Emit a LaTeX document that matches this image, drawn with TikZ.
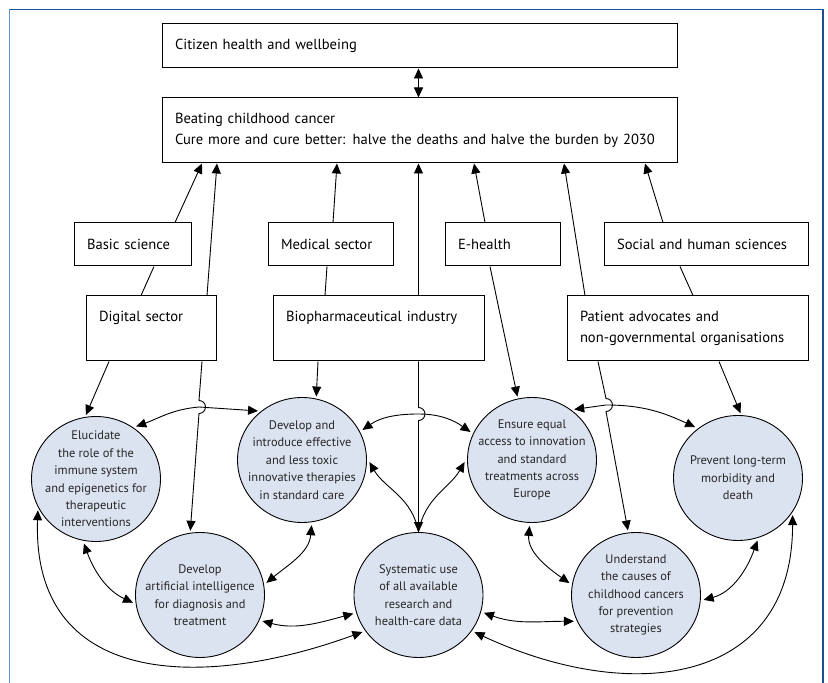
\documentclass[tikz,border=0pt]{standalone}
\usepackage{fontspec}
\setmainfont{PT Sans}
\usetikzlibrary{arrows.meta,shapes.geometric}
\definecolor{framedark}{RGB}{25,80,150}
\definecolor{framelight}{RGB}{95,150,205}
\definecolor{goalfill}{RGB}{220,227,240}
\tikzset{
  sector/.style={draw, line width=1pt, inner xsep=13pt, inner ysep=0pt, align=left,
    font=\fontsize{14.6}{21.5}\selectfont},
  topline/.style={text depth=24.5pt},
  goal/.style={ellipse, draw, line width=0.9pt, fill=goalfill,
    minimum width=129pt, minimum height=125pt, inner sep=0pt},
  goaltext/.style={align=center, text=black!85, inner sep=0pt,
    font=\fontsize{12.4}{17.4}\selectfont},
  link/.style={line width=0.9pt},
  tip/.tip={Triangle[length=10pt,width=9pt]},
  arr/.style={link, -tip, shorten >=2pt},
  dbl/.style={link, tip-tip, shorten >=3pt, shorten <=3pt},
}
\begin{document}
\begin{tikzpicture}[x=1pt,y=1pt]
\useasboundingbox (0,0) rectangle (828,683);
% frame
\draw[framelight, line width=1.5pt] (9.5,0) -- (9.5,673.5);
\draw[framedark, line width=1.5pt] (9.5,673.5) -- (823,673.5) -- (823,0);

% top boxes
\node[sector, text width=489pt, minimum height=44pt] (citizen) at (419.5,637) {Citizen health and wellbeing};
\node[sector, text width=489pt, minimum height=65pt] (beating) at (419.5,552.5)
  {Beating childhood cancer\\Cure more and cure better: halve the deaths and halve the burden by 2030};
\draw[dbl, shorten >=0pt, shorten <=0pt] ([xshift=-1pt]citizen.south) -- ([xshift=-1pt]beating.north);

% sectors
\node[sector, text width=91pt, minimum height=43pt] (basic) at (132.5,438.5) {Basic science};
\node[sector, text width=99pt, minimum height=43pt] (medical) at (330.5,438.5) {Medical sector};
\node[sector, text width=89pt, minimum height=43pt] (ehealth) at (502.5,438.5) {E-health};
\node[sector, text width=178pt, minimum height=43pt] (social) at (706,438.5) {Social and human sciences};
\node[sector, topline, text width=104pt, minimum height=65pt] (digital) at (151,354.5) {Digital sector};
\node[sector, topline, text width=185pt, minimum height=65pt] (biopharma) at (378.5,354.5) {Biopharmaceutical industry};
\node[sector, text width=215pt, minimum height=65pt] (patient) at (687.5,354.5)
  {Patient advocates and\\non-governmental organisations};

% goals
\node[goal, label={[goaltext]center:{Elucidate\\the role of the\\immune system\\and epigenetics for\\therapeutic\\interventions}}] (eluc) at (96,204) {};
\node[goal, label={[goaltext]center:{Develop and\\introduce effective\\and less toxic\\innovative therapies\\in standard care}}] (devint) at (302,223) {};
\node[goal, label={[goaltext]center:{Develop\\artificial intelligence\\for diagnosis and\\treatment}}] (ai) at (200,88) {};
\node[goal, label={[goaltext]center:{Systematic use\\of all available\\research and\\health-care data}}] (sysuse) at (418.5,88) {};
\node[goal, label={[goaltext]center:{Ensure equal\\access to innovation\\and standard\\treatments across\\Europe}}] (ensure) at (532,223) {};
\node[goal, label={[goaltext]center:{Prevent long-term\\morbidity and\\death}}] (prevent) at (738,205) {};
\node[goal, label={[goaltext]center:{Understand\\the causes of\\childhood cancers\\for prevention\\strategies}}] (underst) at (636,88) {};

% crossing points
\coordinate (hopA) at (199,276);
\coordinate (hopB) at (418.5,269);
\coordinate (hopC) at (606,278);

% sectors up to the aim
\draw[arr, shorten >=0pt] ([xshift=42.5pt]basic.north) -- ([xshift=-217.5pt]beating.south);
\draw[arr, shorten >=0pt] ([xshift=56pt]digital.north) -- ([xshift=-202.5pt]beating.south);
\draw[arr, shorten >=0pt] ([xshift=2.5pt]medical.north) -- ([xshift=-82.5pt]beating.south);
\draw[arr, shorten >=0pt] ([xshift=40pt]biopharma.north) -- ([xshift=-1pt]beating.south);
\draw[arr, shorten >=0pt] ([xshift=-17.5pt]ehealth.north) -- ([xshift=54.5pt]beating.south);
\draw[arr, shorten >=0pt] ([xshift=-102.5pt]patient.north) -- ([xshift=144.5pt]beating.south);
\draw[arr, shorten >=0pt] ([xshift=-43pt]social.north) -- ([xshift=225.5pt]beating.south);
\draw[link] ([xshift=21.5pt]basic.south) -- ([xshift=-10pt]digital.north);
\draw[link] ([xshift=-3.5pt]medical.south) -- ([xshift=-53.5pt]biopharma.north);
\draw[link] ([xshift=-26pt]social.south) -- ([xshift=5.5pt]patient.north);

% sectors down to the goals
\draw[arr] ([xshift=-42pt]digital.south) -- (eluc.100);
\draw[arr] ([xshift=51pt]digital.south) -- ([yshift=6.5pt]hopA) arc[start angle=90,end angle=-90,radius=6.5pt] -- (ai.99);
\draw[arr] ([xshift=-60.5pt]biopharma.south) -- (devint.77);
\draw[arr, shorten >=0pt] ([xshift=40pt]biopharma.south) -- ([yshift=6.5pt]hopB) arc[start angle=90,end angle=-90,radius=6.5pt] -- (sysuse.north);
\draw[arr] ([xshift=-12.5pt]ehealth.south) -- (ensure.103);
\draw[arr] ([xshift=-89.5pt]patient.south) -- ([yshift=6.5pt]hopC) arc[start angle=90,end angle=-90,radius=6.5pt] -- (underst.97);
\draw[arr] ([xshift=31.5pt]patient.south) -- (prevent.87);

% links between goals
\draw[dbl] (eluc.54) to[out=20,in=185] (hopA) -- (devint.130);
\draw[dbl] (devint.26) to[out=35,in=180] (hopB) to[out=0,in=145] (ensure.156);
\draw[dbl] (ensure.52) -- (hopC) to[out=0,in=155] (prevent.129);
\draw[arr, shorten >=5pt] (sysuse.north) to[out=100,in=-60] (devint.2);
\draw[arr, shorten >=5pt] (sysuse.north) to[out=80,in=240] (ensure.178);
\draw[dbl] (eluc.258) to[out=290,in=155] (ai.188);
\draw[dbl] (devint.279) to[out=265,in=40] (ai.9);
\draw[dbl] (ai.337) to[out=-15,in=195] (sysuse.196);
\draw[dbl] (eluc.206) to[out=268,in=200,looseness=1.3] (sysuse.214);
\draw[dbl] (sysuse.345) to[out=-20,in=180] (underst.204);
\draw[dbl] (ensure.268) to[out=265,in=145] (underst.171);
\draw[dbl] (underst.355) to[out=15,in=250] (prevent.289);
\draw[dbl] (sysuse.326) to[out=-25,in=270,looseness=1.3] (prevent.328);
\end{tikzpicture}
\end{document}
